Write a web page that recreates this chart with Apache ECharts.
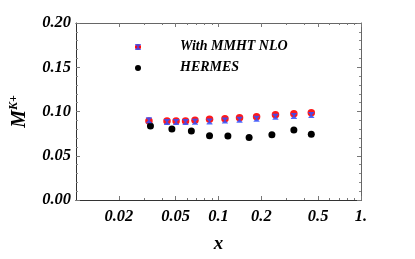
<!DOCTYPE html>
<html><head><meta charset="utf-8">
<script src="https://cdn.jsdelivr.net/npm/echarts@6/dist/echarts.min.js"></script>
<style>html,body{margin:0;padding:0;background:#fff}#c{width:415px;height:259px}</style>
</head><body><div id="c"></div>
<script>
const mmhtX = [0.0325,0.0435,0.0504,0.0587,0.0684,0.0865,0.111,0.1405,0.185,0.251,0.338,0.448];
const mmhtRed = [0.0893,0.0893,0.0893,0.0893,0.0901,0.0912,0.0919,0.0930,0.0941,0.0963,0.0974,0.0985];
const mmhtBlue = [0.0900,0.0882,0.0880,0.0880,0.0884,0.0888,0.0898,0.0908,0.0918,0.0940,0.0950,0.0960];
const hermesX = [0.0333,0.0471,0.0645,0.0865,0.1164,0.164,0.237,0.338,0.448];
const hermesY = [0.0835,0.0802,0.0780,0.0725,0.0722,0.0707,0.0736,0.0791,0.0744];
const xMajorTicks = [0.02,0.05,0.1,0.2,0.5,1];
const xMinorTicks = [0.03,0.04,0.06,0.07,0.08,0.09,0.3,0.4,0.6,0.7,0.8,0.9];
const legendNames = ['With MMHT NLO','HERMES'];

const font = {fontFamily:'Liberation Serif',fontWeight:'bold',fontStyle:'italic',color:'#000'};
const zip = (a,b)=>a.map((v,i)=>[v,b[i]]);
const xPath = 'path://M0,0L10,0L10,1L6,5L10,9L10,10L0,10L0,9L4,5L0,1Z';

function xAx(pos, ticks, len, labels){
  return {type:'log', min:0.01, max:1, position:pos, logBase:10,
    axisLine:{show:true, onZero:false, lineStyle:{color: pos==='bottom'?'#333':'#666', width:1}},
    axisTick:{show:true, inside:true, length:len, customValues:ticks, lineStyle:{color:'#777'}},
    axisLabel:labels?{show:true, customValues:xMajorTicks, margin:8, fontSize:16.5, ...font,
      formatter:v=> v===1?'1.':String(+v.toPrecision(3))}:{show:false},
    splitLine:{show:false}, minorTick:{show:false},
    name: labels?'x':'', nameLocation:'middle', nameGap:35,
    nameTextStyle:{fontSize:19, ...font}};
}
function yAx(pos, labels){
  return {type:'value', min:0, max:0.2, interval:0.05, position:pos,
    axisLine:{show:true, onZero:false, lineStyle:{color: pos==='left'?'#333':'#666'}},
    axisTick:{show:true, inside:true, length:4, lineStyle:{color:'#777'}},
    minorTick:{show:true, splitNumber:5, length:2, lineStyle:{color:'#888'}},
    axisLabel:labels?{show:true, margin:5, fontSize:16.5, ...font, formatter:v=>v.toFixed(2)}:{show:false},
    splitLine:{show:false},
    name: labels?'{m|M}{s|K+}':'', nameLocation:'middle', nameGap:45, nameRotate:90,
    nameTextStyle:{rich:{m:{fontSize:20, ...font}, s:{fontSize:12, ...font, padding:[0,0,11,0]}}}};
}

const chart = echarts.init(document.getElementById('c'));
chart.setOption({
  animation:false,
  grid:{left:68, right:54, top:23, bottom:55},
  xAxis:[xAx('bottom', xMajorTicks, 4, true), xAx('bottom', xMinorTicks, 2, false),
         xAx('top', xMajorTicks, 4, false), xAx('top', xMinorTicks, 2, false)],
  yAxis:[yAx('left', true), yAx('right', false)],
  series:[
    {type:'scatter', name:legendNames[0], data:zip(mmhtX,mmhtRed), symbol:'circle', symbolSize:7.5,
      itemStyle:{color:'#ff0000', opacity:0.9}, z:2},
    {type:'scatter', data:zip(mmhtX,mmhtBlue), symbol:xPath, symbolSize:6,
      itemStyle:{color:'#3050ff', opacity:0.85}, z:3},
    {type:'scatter', name:legendNames[1], data:zip(hermesX,hermesY), symbol:'circle', symbolSize:7,
      itemStyle:{color:'#000', opacity:1}, z:2}
  ],
  graphic:[
    {type:'circle', shape:{cx:138, cy:47, r:3}, style:{fill:'#ff0000'}},
    {type:'polygon', shape:{points:[[135,44],[141,44],[141,44.6],[138.6,47],[141,49.4],[141,50],[135,50],[135,49.4],[137.4,47],[135,44.6]]}, style:{fill:'#3050ff', opacity:0.8}},
    {type:'circle', shape:{cx:138, cy:68, r:3}, style:{fill:'#000'}},
    {type:'text', left:180, top:39, style:{text:legendNames[0], font:'italic bold 14px "Liberation Serif"', fill:'#000'}},
    {type:'text', left:180, top:60, style:{text:legendNames[1], font:'italic bold 14px "Liberation Serif"', fill:'#000'}}
  ]
});
</script></body></html>
